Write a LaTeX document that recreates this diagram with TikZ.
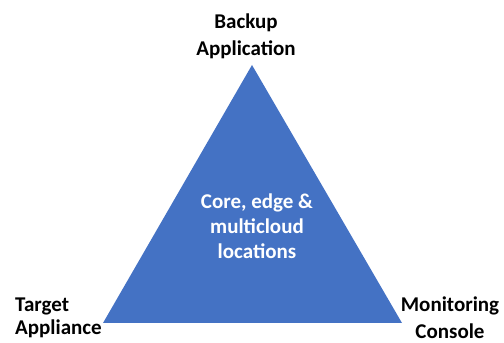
\documentclass[tikz,border=0pt]{standalone}
\usepackage{fontspec}
\setmainfont{Carlito}
\definecolor{triblue}{HTML}{4472C4}
\begin{document}
\begin{tikzpicture}[x=1pt,y=1pt,
  lbl/.style={font=\fontsize{21}{27}\selectfont\bfseries, inner sep=0pt, text=black},
  inner/.style={font=\fontsize{21}{25}\selectfont\bfseries, inner sep=0pt, text=white, align=center}]
\useasboundingbox (0,0) rectangle (504,343);
\coordinate (top) at (252,278);
\coordinate (bl) at (103,20);
\coordinate (br) at (402,20);
\fill[triblue] (top) -- (bl) -- (br) -- cycle;
\node[inner, anchor=north] (center) at (257,149) {Core, edge \&\\multicloud\\locations};
\node[lbl, align=center, anchor=north] (backup) at (246,329) {Backup\\Application};
\node[lbl, align=left, anchor=north west, font=\fontsize{21}{23}\selectfont\bfseries] (target) at (15,45) {Target\\Appliance};
\node[lbl, align=center, anchor=north] (monitor) at (450,46) {Monitoring\\Console};
\end{tikzpicture}
\end{document}
